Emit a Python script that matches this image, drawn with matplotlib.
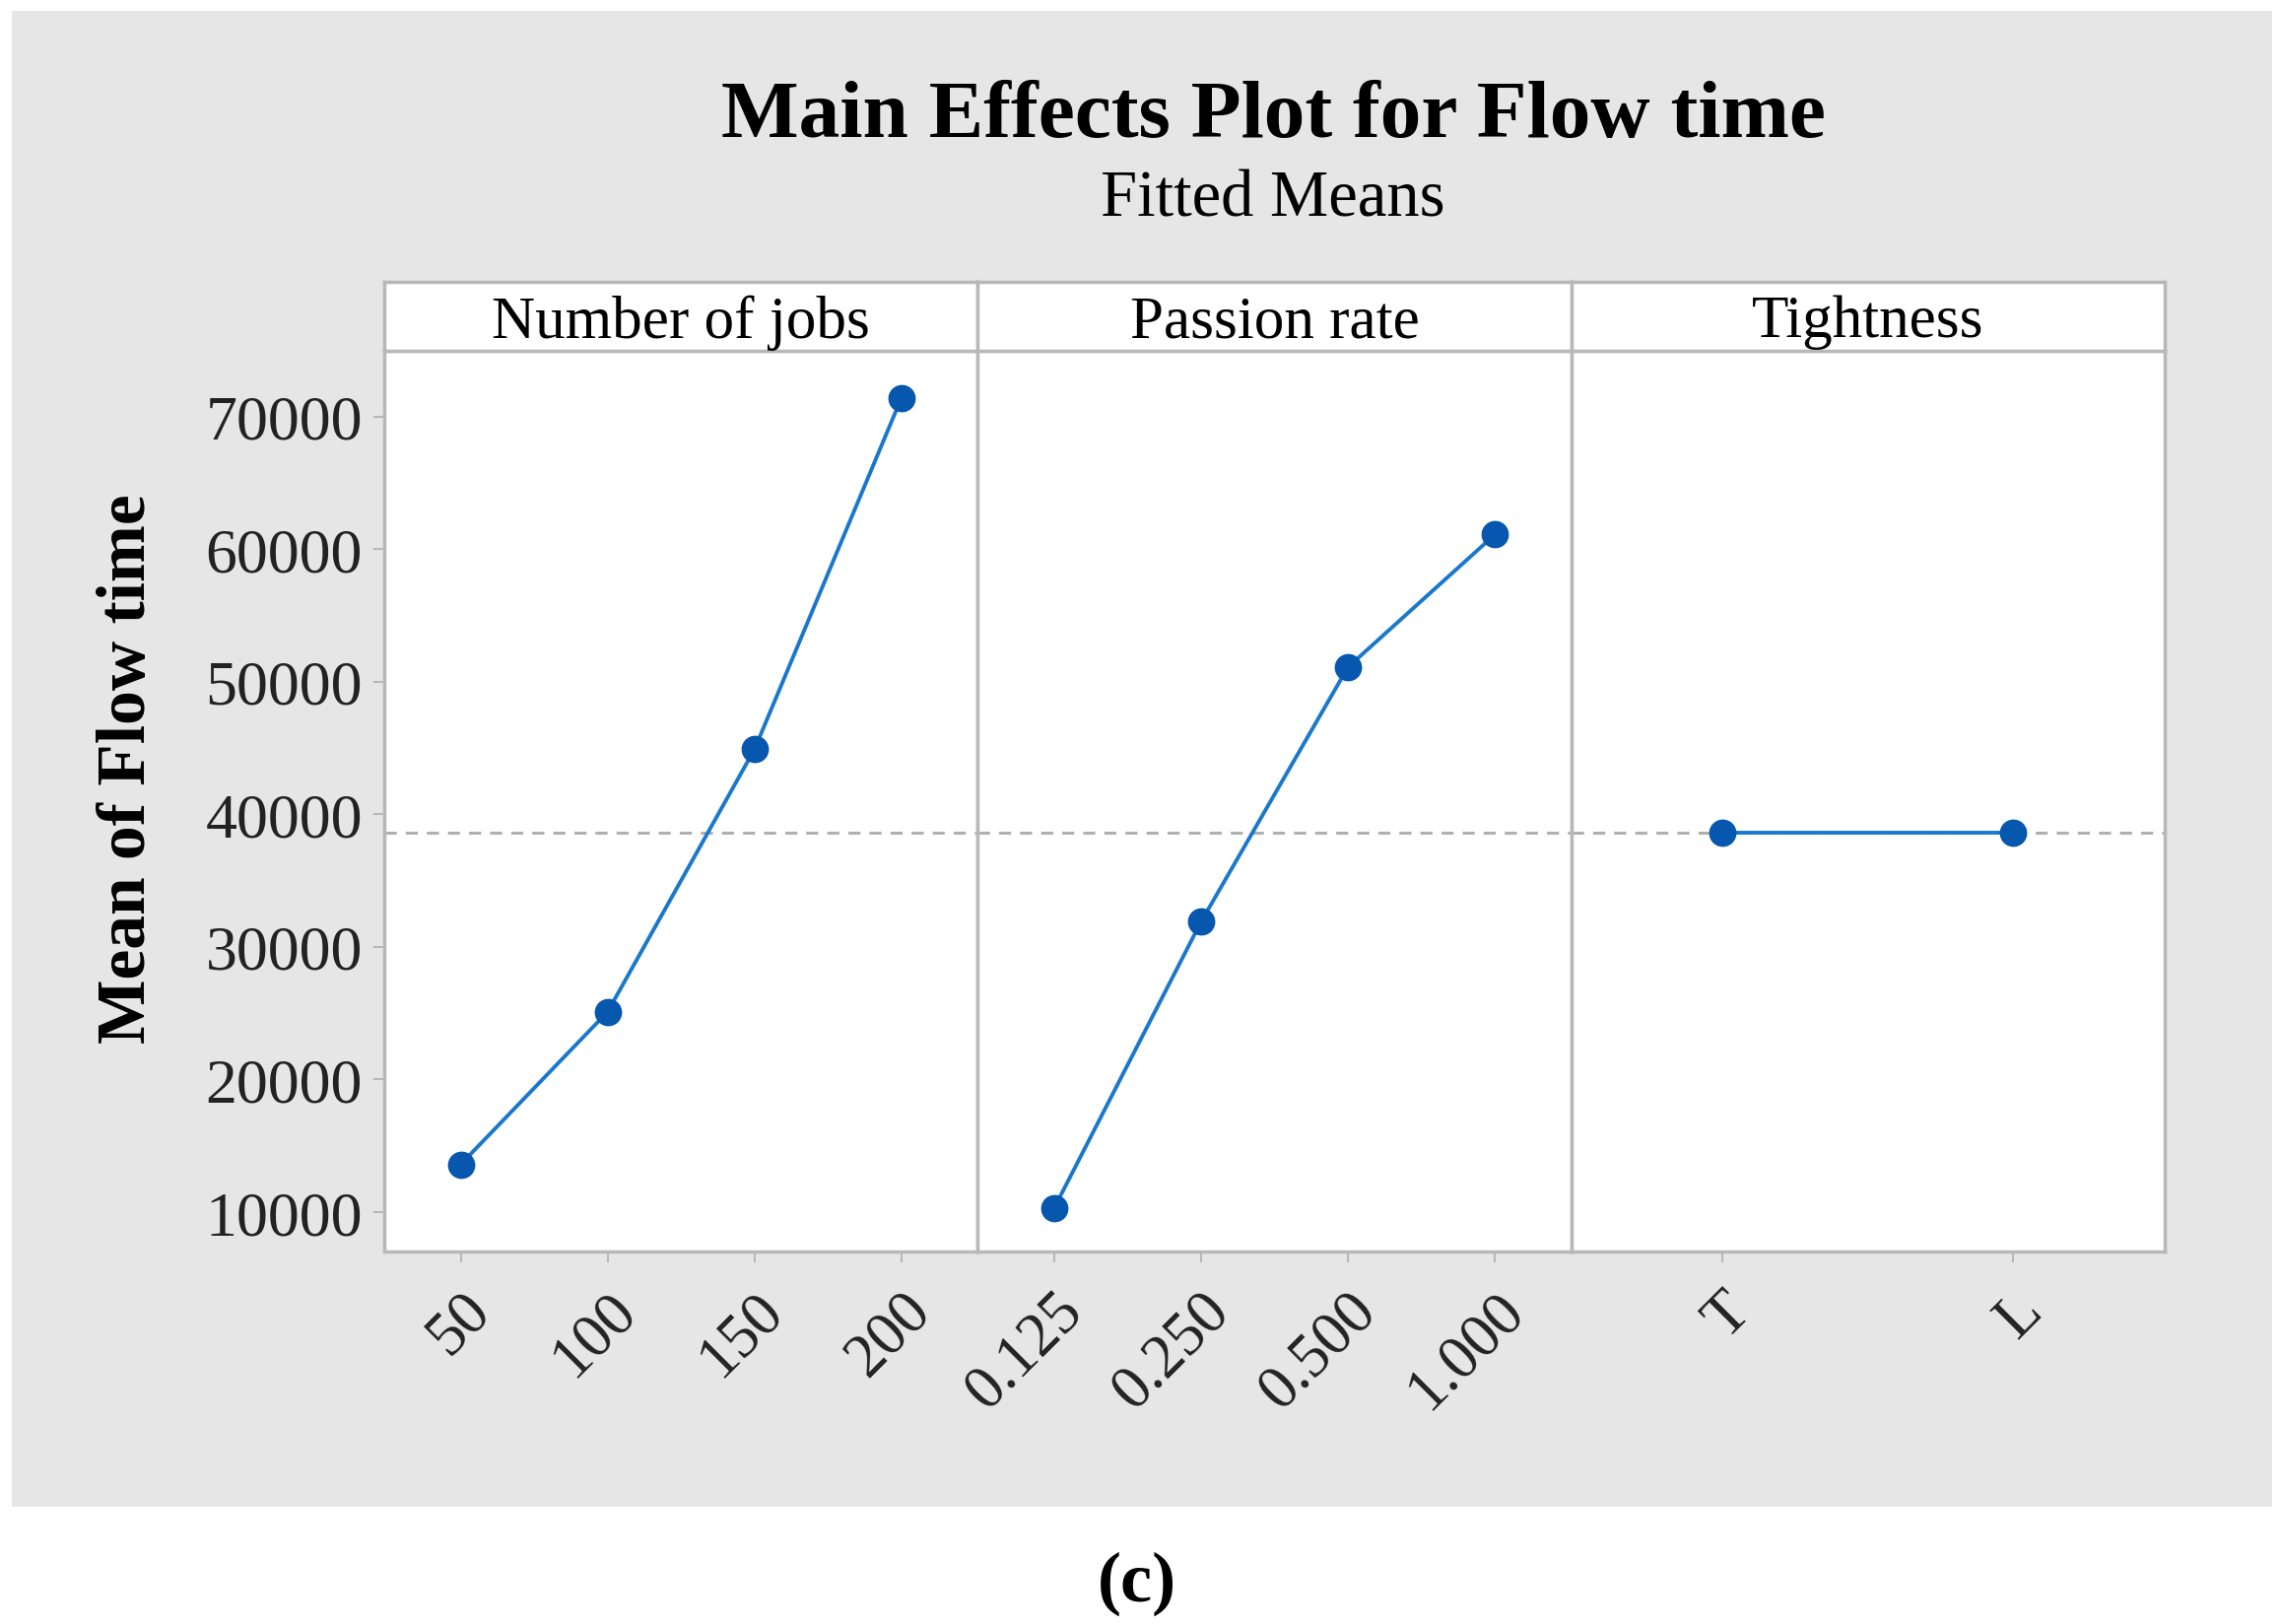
import numpy as np
import matplotlib.pyplot as plt
from matplotlib.patches import Rectangle

# data
panels = ["Number of jobs", "Passion rate", "Tightness"]
jobs_levels = ["50", "100", "150", "200"]
jobs_means = [13600, 25100, 44900, 71400]
rate_levels = ["0.125", "0.250", "0.500", "1.000"]
rate_means = [10300, 31900, 51100, 61100]
tight_levels = ["T", "L"]
tight_means = [38650, 38650]
grand_mean = 38650
yticks = [10000, 20000, 30000, 40000, 50000, 60000, 70000]

levels = [jobs_levels, rate_levels, tight_levels]
means = [jobs_means, rate_means, tight_means]

plt.rcParams['font.family'] = ['Liberation Serif', 'DejaVu Serif']

W, H = 2315, 1649
fig = plt.figure(figsize=(W / 100, H / 100), dpi=100)
fig.patch.set_facecolor('white')

# gray panel behind the chart
fig.add_artist(Rectangle((12 / W, 1 - 1530 / H), (2306 - 12) / W, (1530 - 12) / H,
                         transform=fig.transFigure, facecolor='#e6e6e6',
                         edgecolor='none', zorder=0))

left, right = 390, 2197
top_data, bottom = 357, 1271
strip_top = 287
pw = (right - left) / 3
edge = '#b8b8b8'

for i in range(3):
    x0 = left + i * pw
    ax = fig.add_axes([x0 / W, 1 - bottom / H, pw / W, (bottom - top_data) / H])
    ax.set_facecolor('white')
    n = len(levels[i])
    x = np.arange(n)
    ax.axhline(grand_mean, color='#b0b0b0', lw=2.2, ls=(0, (4, 3)), zorder=1)
    ax.plot(x, means[i], color='#1a78cc', lw=2.8, zorder=2)
    ax.plot(x, means[i], 'o', color='#0657ad', ms=19, zorder=3)
    ax.set_xlim(-0.52, n - 0.48)
    ax.set_ylim(7030, 74960)
    ax.set_xticks(x)
    ax.set_xticklabels(levels[i], rotation=45, ha='right', va='top',
                       rotation_mode='anchor', fontsize=45, color='#222222')
    for s in ax.spines.values():
        s.set_color(edge)
        s.set_linewidth(2.5)
    ax.tick_params(axis='x', length=8, width=1.5, color=edge, pad=14)
    if i == 0:
        ax.set_yticks(yticks)
        ax.set_yticklabels([str(v) for v in yticks], fontsize=46, color='#222222')
        ax.tick_params(axis='y', length=8, width=1.5, color=edge, pad=8)
    else:
        ax.set_yticks([])

    # strip header
    sax = fig.add_axes([x0 / W, 1 - top_data / H, pw / W, (top_data - strip_top) / H])
    sax.set_facecolor('white')
    sax.set_xticks([])
    sax.set_yticks([])
    for s in sax.spines.values():
        s.set_color(edge)
        s.set_linewidth(2.5)
    sax.text(0.5, 0.42, panels[i], ha='center', va='center', fontsize=44,
             transform=sax.transAxes)

fig.text(130 / W, 1 - 780 / H, "Mean of Flow time", rotation=90, ha='center',
         va='center', fontsize=50, fontweight='bold')
fig.text(1292 / W, 1 - 120 / H, "Main Effects Plot for Flow time", ha='center',
         va='center', fontsize=60, fontweight='bold')
fig.text(1292 / W, 1 - 203 / H, "Fitted Means", ha='center', va='center', fontsize=48)
fig.text(1154 / W, 1 - 1607 / H, "(c)", ha='center', va='center', fontsize=52,
         fontweight='bold')

fig.savefig('out.png', dpi=100)
